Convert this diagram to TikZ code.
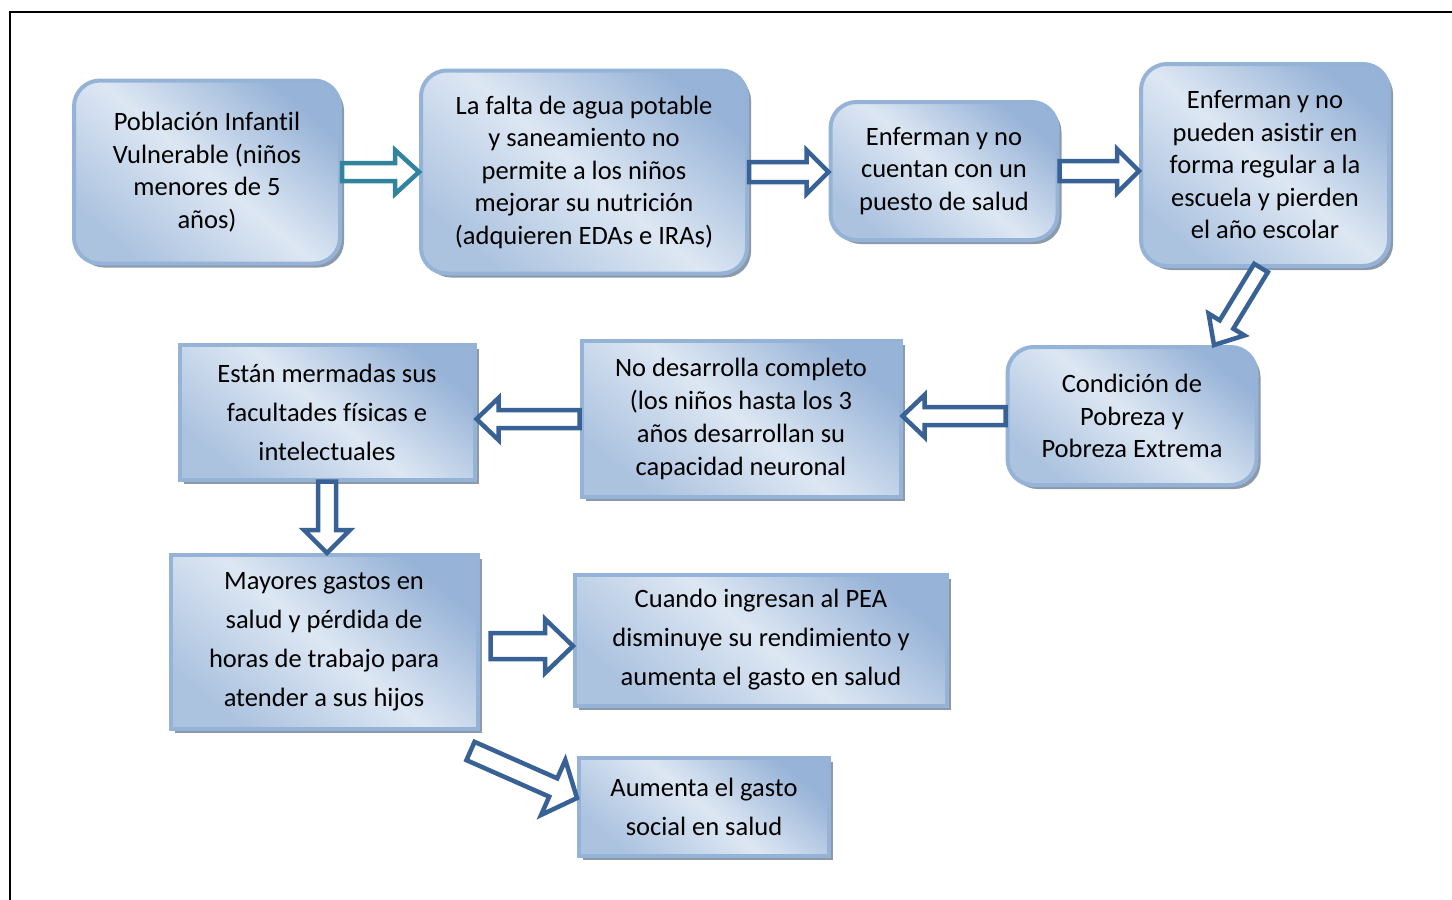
\documentclass[tikz,border=0pt]{standalone}
\usepackage{fontspec}
\setmainfont{Carlito}[Ligatures=NoCommon]
\usetikzlibrary{calc,shadows}
\definecolor{boxline}{HTML}{95B3D7}
\definecolor{boxlight}{HTML}{DDE7F3}
\definecolor{boxdark}{HTML}{97B3D7}
\definecolor{arrowblue}{HTML}{386195}
\definecolor{arrowteal}{HTML}{31849B}
\definecolor{shadowgray}{HTML}{8C99A9}
\tikzset{
  causebox/.style={draw=boxline, line width=4pt, top color=boxdark, bottom color=boxdark!70!boxlight,
    middle color=boxlight, shading angle=-40, align=center, inner sep=0pt,
    drop shadow={shadow xshift=4pt, shadow yshift=-4pt, fill=shadowgray, opacity=1}},
  roundbox/.style={causebox, rounded corners=26pt, font=\fontsize{26.5}{32.5}\selectfont},
  sqbox/.style={causebox, font=\fontsize{26.5}{39}\selectfont},
  barrowline/.style={line width=4.5pt, fill=white},
}
\newcommand\flecha[6][arrowblue]{\draw[barrowline,draw=#1] let \p1=($(#3)-(#2)$), \n1={atan2(\y1,\x1)}, \n2={veclen(\x1,\y1)} in
  ($(#2)+(\n1+90:#4pt)$) -- ++(\n1:\n2-#6pt) -- ++(\n1+90:#5pt-#4pt) -- (#3)
  -- ($(#3)+(\n1+180:#6pt)+(\n1-90:#5pt)$) -- ++(\n1+90:#5pt-#4pt) -- ($(#2)+(\n1-90:#4pt)$) -- cycle;}

\begin{document}
\begin{tikzpicture}[x=1pt,y=-1pt]
  \useasboundingbox (0,0) rectangle (1452,900);
  \draw[line width=1.5pt] (10,900) -- (10,12) -- (1452,12);

  \node[roundbox, minimum width=266pt, minimum height=183pt] (pob) at (207,172)
    {Población Infantil\\Vulnerable (niños\\menores de 5\\años)};
  \node[roundbox, minimum width=326pt, minimum height=203pt] (falta) at (584,172)
    {La falta de agua potable\\y saneamiento no\\permite a los niños\\mejorar su nutrición\\(adquieren EDAs e IRAs)};
  \node[roundbox, minimum width=227pt, minimum height=138pt] (enf1) at (944,171)
    {Enferman y no\\cuentan con un\\puesto de salud};
  \node[roundbox, minimum width=248pt, minimum height=202pt] (enf2) at (1265,165)
    {Enferman y no\\pueden asistir en\\forma regular a la\\escuela y pierden\\el año escolar};
  \node[roundbox, minimum width=249pt, minimum height=138pt] (cond) at (1132,416)
    {Condición de\\Pobreza y\\Pobreza Extrema};
  \node[causebox, font=\fontsize{26.5}{33}\selectfont, minimum width=319pt, minimum height=156pt] (desa) at (741,419)
    {No desarrolla completo\\(los niños hasta los 3\\años desarrollan su\\capacidad neuronal};
  \node[sqbox, minimum width=295pt, minimum height=135pt] (estan) at (327,412)
    {Están mermadas sus\\facultades físicas e\\intelectuales};
  \node[sqbox, minimum width=307pt, minimum height=174pt] (mayores) at (324,642)
    {Mayores gastos en\\salud y pérdida de\\horas de trabajo para\\atender a sus hijos};
  \node[sqbox, minimum width=372pt, minimum height=131pt] (cuando) at (761,640)
    {Cuando ingresan al PEA\\disminuye su rendimiento y\\aumenta el gasto en salud};
  \node[sqbox, minimum width=250pt, minimum height=98pt] (aumenta) at (704,807)
    {Aumenta el gasto\\social en salud};

  \coordinate (t2) at (falta.east -| enf1.west);
  \coordinate (t3) at (enf1.east -| enf2.west);
  \coordinate (s4) at ([xshift=-4pt]enf2.south);
  \coordinate (t4) at ([xshift=82pt]cond.north);
  \coordinate (t5) at (cond.west -| desa.east);
  \coordinate (t6) at (desa.west -| estan.east);
  \coordinate (t7) at (estan.south |- mayores.north);
  \coordinate (s8) at ([shift={(11pt,-4pt)}]mayores.east);
  \coordinate (t8) at (s8 -| cuando.west);
  \coordinate (s9) at ([shift={(-9pt,-20pt)}]mayores.south east);
  \coordinate (t9) at ([yshift=9pt]aumenta.west);

  \flecha[arrowteal]{pob.east}{falta.west}{9}{22}{24}
  \flecha{falta.east}{t2}{10}{22}{22}
  \flecha{enf1.east}{t3}{10}{22}{22}
  \flecha{s4}{t4}{8}{21}{24}
  \flecha{cond.west}{t5}{9}{21}{22}
  \flecha{desa.west}{t6}{9}{21}{22}
  \flecha{estan.south}{t7}{9}{23}{23}
  \flecha{s8}{t8}{13}{27}{28}
  \flecha{s9}{t9}{10}{30}{26}
\end{tikzpicture}
\end{document}
